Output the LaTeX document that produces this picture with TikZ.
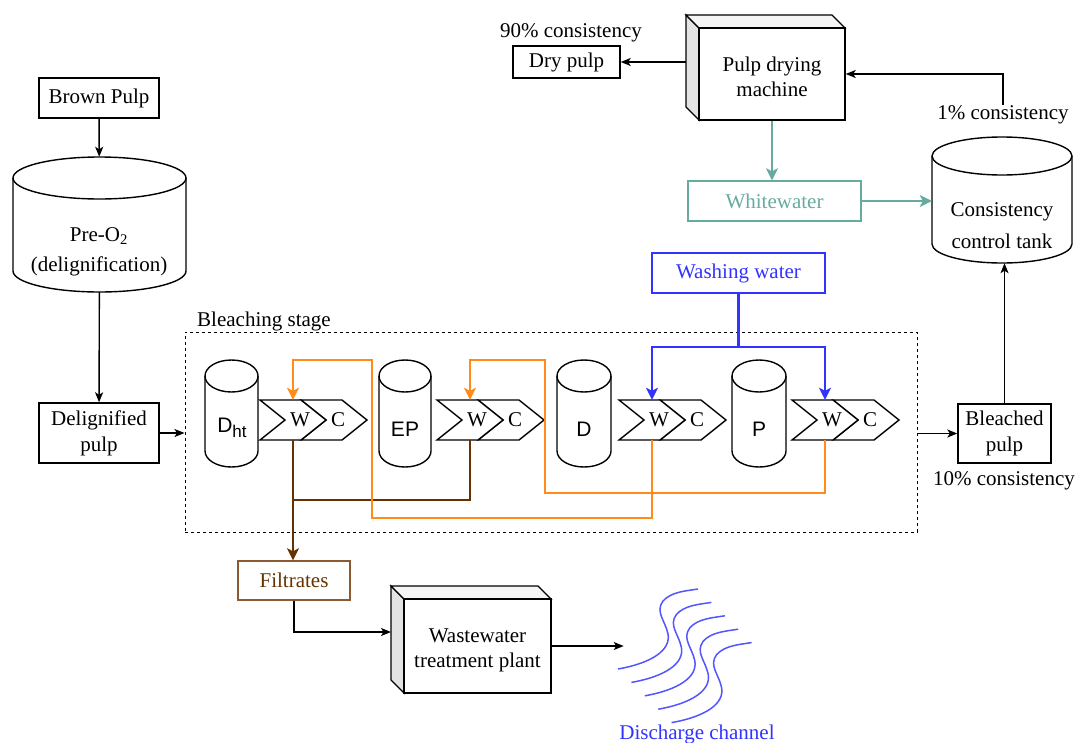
\documentclass[tikz,border=0pt]{standalone}
\usepackage{fontspec}
\setmainfont{Liberation Serif}
\setsansfont{Liberation Sans}
\usetikzlibrary{arrows.meta,fit,calc}
\definecolor{orng}{RGB}{255,140,26}
\definecolor{blu}{RGB}{51,51,255}
\definecolor{brwn}{RGB}{102,51,0}
\definecolor{fbrwn}{RGB}{140,90,50}
\definecolor{tealc}{RGB}{103,171,159}
\definecolor{wavec}{RGB}{85,85,255}
\tikzset{
  shp/.style={draw, line width=1.4pt, fill=white},
  txt/.style={font=\fontsize{21}{25}\selectfont, inner sep=1pt, align=center},
  box/.style={draw, line width=1.4pt, fill=white, inner sep=0pt, align=center, font=\fontsize{21}{26}\selectfont},
  conn/.style={line width=1.4pt},
  arr/.style={conn, -{Stealth[length=10pt,width=8pt,inset=2.5pt]}},
  thick2/.style={line width=2.9pt},
  thickarr/.style={thick2, -{Stealth[length=12pt,width=12pt,inset=3pt]}},
  wave/.style={draw=wavec, line width=1.5pt},
}
\newcommand\drum[6]{%
 \pgfmathsetmacro\dra{#2}%
 \pgfmathsetmacro\drb{#4}%
 \pgfmathsetmacro\drc{(#2+#4)/2}%
 \pgfmathsetmacro\drk{(#4-#2)/2*0.5523}%
 \pgfmathsetmacro\drt{#3+#6}%
 \pgfmathsetmacro\drl{#5-#6}%
 \pgfmathsetmacro\drq{#6*0.5523}%
 \pgfmathsetmacro\drm{#3+2*#6}%
 \draw[shp] (\dra,\drt) -- (\dra,\drl) .. controls (\dra,{\drl+\drq}) and ({\drc-\drk},#5) .. (\drc,#5) .. controls ({\drc+\drk},#5) and (\drb,{\drl+\drq}) .. (\drb,\drl) -- (\drb,\drt) .. controls (\drb,{\drt-\drq}) and ({\drc+\drk},#3) .. (\drc,#3) .. controls ({\drc-\drk},#3) and (\dra,{\drt-\drq}) .. (\dra,\drt) -- cycle;
 \draw[shp, fill=none] (\dra,\drt) .. controls (\dra,{\drt+\drq}) and ({\drc-\drk},\drm) .. (\drc,\drm) .. controls ({\drc+\drk},\drm) and (\drb,{\drt+\drq}) .. (\drb,\drt);
 \node[fit={(#2,#3) (#4,#5)}, inner sep=0pt] (#1) {};
}
% cube: outer name, front name, x1,y1,x2,y2 (depth 13)
\newcommand\cubeshape[6]{%
 \filldraw[shp, fill=gray!22] (#3,#4) -- ({#3+13},{#4+13}) -- ({#3+13},#6) -- (#3,{#6-13}) -- cycle;
 \filldraw[shp, fill=gray!8] (#3,#4) -- ({#5-13},#4) -- (#5,{#4+13}) -- ({#3+13},{#4+13}) -- cycle;
 \node[shp, fit={({#3+13},{#4+13}) (#5,#6)}, inner sep=0pt] (#2) {};
 \node[fit={(#3,#4) (#5,#6)}, inner sep=0pt] (#1) {};
}
% chevron pair: W name, x0, y0
\newcommand\chevpair[3]{%
 \draw[shp] ({#2+41},#3) -- ({#2+82},#3) -- ({#2+107},{#3+20}) -- ({#2+82},{#3+40}) -- ({#2+41},{#3+40}) -- ({#2+66},{#3+20}) -- cycle;
 \draw[shp] (#2,#3) -- ({#2+41},#3) -- ({#2+66},{#3+20}) -- ({#2+41},{#3+40}) -- (#2,{#3+40}) -- ({#2+25},{#3+20}) -- cycle;
 \node[fit={(#2,#3) ({#2+66},{#3+40})}, inner sep=0pt] (#1) {};
 \node[txt] at ({#2+40},{#3+20}) {W};
 \node[txt] at ({#2+78},{#3+20}) {C};
}
\begin{document}
\begin{tikzpicture}[x=1pt,y=-1pt]
\useasboundingbox (0,0) rectangle (1076,742);

% ---------- left column ----------
\node[box, minimum width=120pt, minimum height=40pt] (brown) at (99,98) {Brown Pulp};
\drum{pre}{13}{157}{186}{292}{21}
\node[txt] (pretxt) at (99,236) {Pre-O\textsubscript{2}};
\node[txt] (deltxt) at (99,266) {(delignification)};
\node[box, minimum width=120pt, minimum height=60pt] (delig) at (99,433) {Delignified\\pulp};

% ---------- bleaching stage ----------
\node[draw, line width=1pt, dash pattern=on 3pt off 3pt, fit={(185,332) (917,532)}, inner sep=0pt] (bleach) {};
\node[txt, anchor=west] (bltxt) at (196,321) {Bleaching stage};

\drum{dht}{205}{360}{258}{467}{16}
\drum{ep}{379}{360}{431}{467}{16}
\drum{dd}{557}{360}{611}{467}{16}
\drum{pp}{732}{360}{786}{467}{16}
\node[txt, font=\sffamily\fontsize{21}{25}\selectfont] (dhtl) at (232,428) {D\raisebox{-5pt}{\fontsize{17}{17}\selectfont ht}};
\node[txt, font=\sffamily\fontsize{21}{25}\selectfont] (epl) at (405,429) {EP};
\node[txt, font=\sffamily\fontsize{21}{25}\selectfont] (ddl) at (584,429) {D};
\node[txt, font=\sffamily\fontsize{21}{25}\selectfont] (ppl) at (759,429) {P};

\chevpair{w1}{260}{400}
\chevpair{w2}{437}{400}
\chevpair{w3}{619}{400}
\chevpair{w4}{792}{400}

% ---------- right side ----------
\node[box, minimum width=93pt, minimum height=59pt] (bleached) at (1004.5,433.5) {Bleached\\pulp};
\node[txt] (c10) at (1004,481) {10\% consistency};
\drum{tank}{932}{137}{1072}{263}{19}
\node[txt, font=\fontsize{21}{32}\selectfont] (tanktxt) at (1002,226) {Consistency\\control tank};
\node[txt] (c1) at (1003,115) {1\% consistency};

\cubeshape{machine}{machinef}{686}{15}{845}{120}
\node[txt] (machtxt) at (772,77) {Pulp drying\\machine};
\node[box, minimum width=107pt, minimum height=32pt] (dry) at (566.5,62) {Dry pulp};
\node[txt] (c90) at (571,33) {90\% consistency};

\node[box, draw=tealc, text=tealc, minimum width=173pt, minimum height=40pt] (white) at (774.5,201) {Whitewater};
\node[box, draw=blu, text=blu, minimum width=173pt, minimum height=40pt] (wash) at (738.5,273) {Washing water};

% ---------- bottom ----------
\node[box, draw=fbrwn, text=brwn, minimum width=112pt, minimum height=39pt] (filt) at (294,580.5) {Filtrates};
\cubeshape{wwtp}{wwtpf}{391}{586}{551}{693}
\node[txt] (wwtxt) at (477.5,650) {Wastewater\\treatment plant};

\foreach \i in {0,...,4}{
  \begin{scope}[shift={(13.4*\i,13.4*\i)}]
  \draw[wave] (618,669) .. controls (652,663) and (671,650) .. (668,634)
     .. controls (665,620) and (655,612) .. (663,601)
     .. controls (671,592) and (685,591) .. (698,589);
  \end{scope}
}
\node[txt, text=blu] (disch) at (697,734) {Discharge channel};

% ---------- connectors ----------
\draw[arr] (brown) -- (pre);
\draw[arr] (pre) -- (delig);
\draw[arr] (delig.east) -- (delig.east -| bleach.west);
\draw[arr] (bleached.west -| bleach.east) -- (bleached.west);
\draw[arr] (bleached.north) -- (bleached.north |- tank.south);
\draw[arr] (c1.north) |- (machinef.east);
\draw[arr] (machine.west |- dry.east) -- (dry.east);
\draw[thickarr, draw=tealc, color=tealc] (machinef.south) -- (machinef.south |- white.north);
\draw[thickarr, draw=tealc, color=tealc] (white.east) -- (white.east -| tank.west);

% filtrates (brown)
\coordinate (bjoin) at (293,500);
\draw[thick2, draw=brwn] (w2.south) |- (bjoin);
\draw[thickarr, draw=brwn, color=brwn] (w1.south) -- (w1.south |- filt.north);

% orange recirculation
\draw[thickarr, draw=orng, color=orng] (w3.south) |- (372,518) -- (372,360) -| (w1.north);
\draw[thickarr, draw=orng, color=orng] (w4.south) |- (545,493) -- (545,360) -| (w2.north);

% washing water (blue)
\coordinate (wsplit) at (738.5,347);
\draw[thick2, draw=blu] (wash.south) -- (wsplit);
\draw[thickarr, draw=blu, color=blu] (wsplit) -| (w3.north);
\draw[thickarr, draw=blu, color=blu] (wsplit) -| (w4.north);

\coordinate (wwin) at (391,632);
\draw[arr] (filt.south) |- (wwin);
\draw[arr] (wwtpf.east) -- ++(72,0);
\end{tikzpicture}
\end{document}
